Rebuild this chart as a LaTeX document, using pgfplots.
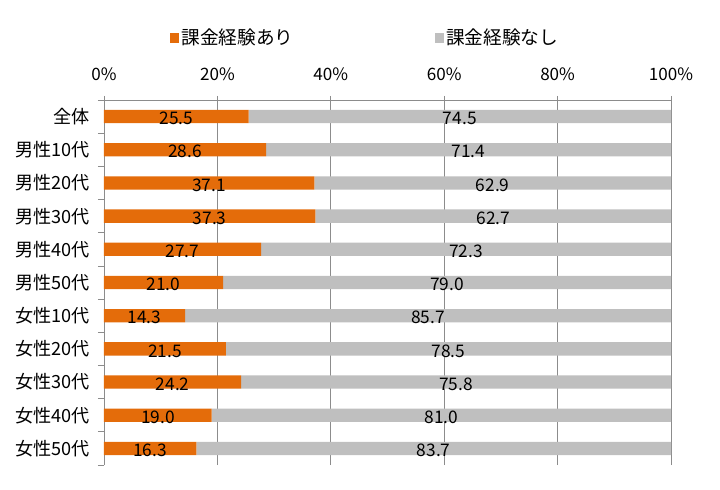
\documentclass[border=0pt]{standalone}
\usepackage{pgfplots}
\pgfplotsset{compat=1.18}
\usetikzlibrary{calc}
\usepackage{fontspec}
\setmainfont{Noto Sans CJK JP}
\definecolor{barorange}{HTML}{E46C0A}
\definecolor{bargray}{HTML}{BFBFBF}
\definecolor{gridgray}{HTML}{8C8C8C}
\begin{document}
\begin{tikzpicture}
\pgfplotsset{
  common/.style={
    width=425.25pt, height=273.75pt, scale only axis,
    xmin=0, xmax=100, ymin=-0.5, ymax=10.5,
  }
}
\begin{axis}[
  common,
  xbar stacked,
  bar width=0.4,
  axis x line*=top,
  axis y line*=left,
  axis line style={gridgray, line width=0.6pt},
  xtick={0,20,...,100},
  xticklabel={\pgfmathprintnumber{\tick}\%},
  /pgf/number format/assume math mode=true,
  xticklabel style={font=\fontsize{12.8}{14}\selectfont, yshift=8pt},
  xmajorgrids,
  grid style={gridgray, line width=0.6pt},
  tick align=outside,
  major tick length=3pt,
  xtick style={gridgray, line width=0.6pt},
  ytick={0,...,10},
  yticklabels={女性50代,女性40代,女性30代,女性20代,女性10代,男性50代,男性40代,男性30代,男性20代,男性10代,全体},
  yticklabel style={font=\fontsize{13.6}{15}\selectfont, xshift=-4pt},
  major y tick style={draw=none},
  minor ytick={-0.5,0.5,...,10.5},
  minor y tick style={gridgray, line width=0.6pt},
  minor tick length=4.5pt,
  legend columns=2,
  legend style={draw=none, fill=none, at={(0.116,1.17)}, anchor=west,
    font=\fontsize{14}{15}\selectfont, inner sep=0pt,
    /tikz/every even column/.append style={column sep=104pt}},
  legend image code/.code={\fill[#1] (0pt,-3.6pt) rectangle (6.6pt,3.6pt);},
  legend cell align=left,
]
\addplot[fill=barorange, draw=none] coordinates {
(25.5,10) (28.6,9) (37.1,8) (37.3,7) (27.7,6) (21.0,5) (14.3,4) (21.5,3) (24.2,2) (19.0,1) (16.3,0)};
\addlegendentry{課金経験あり}
\addplot[fill=bargray, draw=none] coordinates {
(74.5,10) (71.4,9) (62.9,8) (62.7,7) (72.3,6) (79.0,5) (85.7,4) (78.5,3) (75.8,2) (81.0,1) (83.7,0)};
\addlegendentry{課金経験なし}
\coordinate (bl) at (rel axis cs:0,0);
\coordinate (tr) at (rel axis cs:1,1);
\end{axis}
\begin{axis}[common, hide axis]
\addplot[draw=none, mark=none, nodes near coords, point meta=explicit symbolic,
  every node near coord/.append style={anchor=center, yshift=-1.5pt, font=\fontsize{13}{14}\selectfont, text=black}]
table[meta=lab] {
x y lab
12.75 10 25.5
14.30 9 28.6
18.55 8 37.1
18.65 7 37.3
13.85 6 27.7
10.50 5 21.0
7.15 4 14.3
10.75 3 21.5
12.10 2 24.2
9.50 1 19.0
8.15 0 16.3
62.75 10 74.5
64.30 9 71.4
68.55 8 62.9
68.65 7 62.7
63.85 6 72.3
60.50 5 79.0
57.15 4 85.7
60.75 3 78.5
62.10 2 75.8
59.50 1 81.0
58.15 0 83.7
};
\end{axis}
\path[use as bounding box] ($(bl)+(-78pt,-18pt)$) rectangle ($(tr)+(36.75pt,75pt)$);
\end{tikzpicture}
\end{document}
